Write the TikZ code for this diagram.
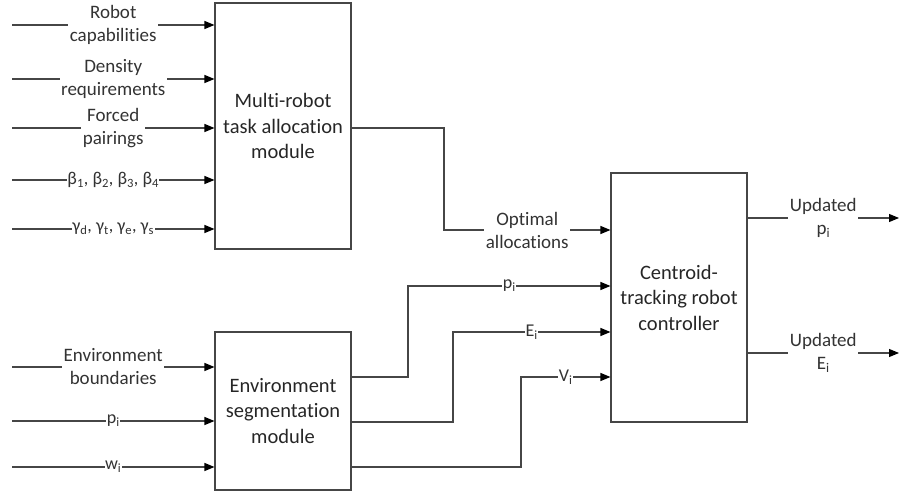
\documentclass[tikz,border=0pt]{standalone}
\usepackage{fontspec}
\setmainfont{Carlito}[Ligatures=NoCommon]
\usetikzlibrary{arrows.meta}
\definecolor{linec}{RGB}{70,70,70}
\tikzset{
  box/.style={draw=linec, line width=1.1pt, minimum width=136pt, inner sep=0pt, align=center, font=\fontsize{20.5}{25.5}\selectfont, text=black!85},
  arr/.style={draw=linec, line width=1.1pt, -{Triangle[length=10pt,width=8pt,color=black]}},
  lab/.style={fill=white, inner sep=1.5pt, align=center, font=\fontsize{19}{23}\selectfont, text=black!80},
  glab/.style={lab, inner sep=0.5pt, font=\fontsize{18}{23}\selectfont},
}
\newcommand{\sbs}[1]{\textsubscript{#1}}
\begin{document}
\begin{tikzpicture}[x=1pt,y=-1pt]
\useasboundingbox (0,0) rectangle (899,494);
\node[box, minimum height=246pt] (b1) at (283,126) {Multi-robot\\task allocation\\module};
\node[box, minimum height=158pt] (b2) at (283,411) {Environment\\segmentation\\module};
\node[box, minimum height=249pt] (b3) at (679,297.5) {Centroid-\\tracking robot\\controller};
% inputs to b1
\coordinate (i1) at (12,25);
\coordinate (i2) at (12,79);
\coordinate (i3) at (12,128);
\coordinate (i4) at (12,180);
\coordinate (i5) at (12,229);
\draw[arr] (i1) -- node[lab]{Robot\\capabilities} (b1.west |- i1);
\draw[arr] (i2) -- node[lab]{Density\\requirements} (b1.west |- i2);
\draw[arr] (i3) -- node[lab]{Forced\\pairings} (b1.west |- i3);
\draw[arr] (i4) -- node[glab]{β\sbs{1}, β\sbs{2}, β\sbs{3}, β\sbs{4}} (b1.west |- i4);
\draw[arr] (i5) -- node[glab]{γ\sbs{d}, γ\sbs{t}, γ\sbs{e}, γ\sbs{s}} (b1.west |- i5);
% inputs to b2
\coordinate (j1) at (12,367);
\coordinate (j2) at (12,421);
\coordinate (j3) at (12,467);
\draw[arr] (j1) -- node[lab]{Environment\\boundaries} (b2.west |- j1);
\draw[arr] (j2) -- node[glab]{p\sbs{i}} (b2.west |- j2);
\draw[arr] (j3) -- node[glab]{w\sbs{i}} (b2.west |- j3);
% b1 -> b3
\coordinate (o1) at (351,128);
\coordinate (k1) at (444,230);
\draw[arr] (b1.east |- o1) -| (k1) -- node[lab]{Optimal\\allocations} (b3.west |- k1);
% b2 -> b3
\coordinate (o2) at (351,377);
\coordinate (o3) at (351,422);
\coordinate (o4) at (351,467);
\coordinate (c2) at (408,286);
\coordinate (c3) at (453,332);
\coordinate (c4) at (521,377);
\draw[arr] (b2.east |- o2) -| (c2) -- node[glab]{p\sbs{i}} (b3.west |- c2);
\draw[arr] (b2.east |- o3) -| (c3) -- node[glab]{E\sbs{i}} (b3.west |- c3);
\draw[arr] (b2.east |- o4) -| (c4) -- node[glab]{V\sbs{i}} (b3.west |- c4);
% outputs
\coordinate (e1) at (899,218);
\coordinate (e2) at (899,353);
\draw[arr] (b3.east |- e1) -- node[lab]{Updated\\p\sbs{i}} (e1);
\draw[arr] (b3.east |- e2) -- node[lab]{Updated\\E\sbs{i}} (e2);
\end{tikzpicture}
\end{document}
